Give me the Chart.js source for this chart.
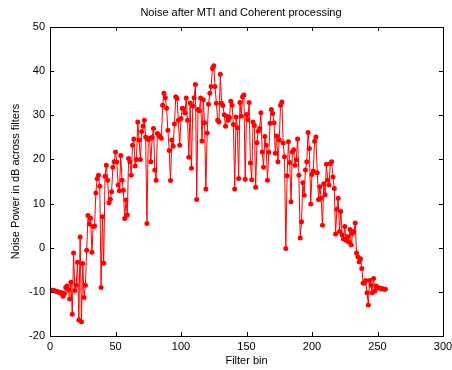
<!DOCTYPE html>
<html>
<head>
<meta charset="utf-8">
<script src="https://cdn.jsdelivr.net/npm/chart.js@4/dist/chart.umd.min.js"></script>
<style>
  html, body { margin: 0; padding: 0; background: #fff; }
  #wrap { width: 452px; height: 370px; }
</style>
</head>
<body>
<div id="wrap"><canvas id="noiseChart"></canvas></div>
<script>
// noise power (dB) for filter bins 1..256
const noisePower = [
  -9.6, -9.7, -9.7, -9.8, -9.9, -10.0, -10.1, -10.3, -10.2,
  -11.0, -10.4, -9.0, -8.7, -9.5, -11.6, -7.8, -15.1, -1.2, -9.7, -8.5,
  -3.3, -16.4, 2.4, -16.8, -3.6, -11.3, -8.5, -0.6, 7.3, 5.4, 6.7, -1.0,
  4.8, 4.9, 12.4, 15.6, 16.4, 13.9,
  -9.0, 7.0, -3.5, 16.2, 18.7, 15.3, 10.2, 11.0, 12.7, 18.2, 19.5, 21.7,
  19.4, 14.2, 12.9, 20.9, 15.3, 13.0, 6.6, 10.8, 7.4, 20.2, 19.5, 16.4,
  23.2, 24.6, 18.5, 20.0, 28.5, 24.4, 20.0, 26.3, 27.5, 28.9, 25.1, 5.5,
  24.5, 24.8, 19.5, 25.0, 27.0, 17.6, 15.3, 25.9, 25.5, 25.2, 24.8, 32.3, 35.0,
  34.0, 31.6, 26.6, 22.0, 15.2, 24.4, 23.0, 28.0, 34.2, 33.8, 28.9, 23.2,
  29.3, 31.6, 31.5, 30.5, 33.9, 28.9, 20.5, 32.8, 18.0, 32.1, 34.0, 37.0,
  10.9, 31.3, 31.0, 33.9, 24.2, 33.5, 28.3, 13.3, 26.0, 32.5, 35.0, 36.5,
  40.6, 41.2, 36.5, 32.7, 28.9,
  28.5, 39.3, 32.7, 32.2, 30.1, 27.5, 29.8, 28.9, 29.5, 33.2, 32.3, 27.9,
  13.3, 29.6, 27.2, 15.7, 32.9, 29.8, 34.2, 34.6, 15.5, 30.2, 29.0, 32.9,
  19.2, 15.4, 28.5, 27.7, 13.7, 23.8, 26.4, 27.0, 30.6, 21.7, 18.2, 25.2,
  23.2, 15.3, 21.6, 28.2, 31.3, 30.4,
  28.3, 21.4, 25.3, 19.5, 24.4, 32.3, 33.0, 23.7, 20.6, -0.2, 16.3, 24.0,
  19.3, 10.4, 21.7, 22.2, 18.7, 19.9, 24.6, 16.4, 2.2, 5.9, 14.7, 11.9,
  17.6, 19.5, 26.1, 22.5, 9.9, 16.6, 17.4, 24.1, 25.1, 17.0, 10.9, 13.8,
  11.2, 5.1, 14.5, 12.0, 18.9, 15.3, 14.2, 19.1, 19.5,
  16.0, 13.4, 3.1, 8.7, 11.2, 3.7, 8.2, 2.9, 2.0, 4.8, 1.7, 2.5, 1.3, 4.1,
  0.6, 3.3, 3.7, 5.6, -1.2, -2.1, -3.2, -2.5, -4.7, -8.0, -8.0, -7.4,
  -10.2, -13.0, -7.4, -8.5, -10.2, -7.0, -9.8, -8.7, -9.0, -9.1, -9.2,
  -9.3, -9.3, -9.4, -9.4
];
const xTicks = [0, 50, 100, 150, 200, 250, 300];
const yTicks = [-20, -10, 0, 10, 20, 30, 40, 50];
const chartTitle = 'Noise after MTI and Coherent processing';

const points = noisePower.map((v, i) => ({ x: i + 1, y: v }));
const fontFamily = "'Liberation Sans', Arial, sans-serif";
const font = { family: fontFamily, size: 11 };

// matlab style box with ticks pointing in, plus the title
const boxTicks = {
  id: 'boxTicks',
  afterDraw(chart) {
    const { ctx, chartArea: a, scales } = chart;
    const len = 4;
    ctx.save();
    ctx.strokeStyle = '#000';
    ctx.lineWidth = 1;
    ctx.beginPath();
    scales.x.ticks.forEach(t => {
      const px = Math.round(scales.x.getPixelForValue(t.value)) + 0.5;
      ctx.moveTo(px, a.bottom); ctx.lineTo(px, a.bottom - len);
      ctx.moveTo(px, a.top); ctx.lineTo(px, a.top + len);
    });
    scales.y.ticks.forEach(t => {
      const py = Math.round(scales.y.getPixelForValue(t.value)) + 0.5;
      ctx.moveTo(a.left, py); ctx.lineTo(a.left + len, py);
      ctx.moveTo(a.right, py); ctx.lineTo(a.right - len, py);
    });
    ctx.stroke();
    ctx.strokeRect(Math.round(a.left) + 0.5, Math.round(a.top) + 0.5,
      Math.round(a.right - a.left), Math.round(a.bottom - a.top));

    ctx.fillStyle = '#000';
    ctx.font = '11px ' + fontFamily;
    ctx.textAlign = 'center';
    ctx.textBaseline = 'middle';
    ctx.fillText(chartTitle, 241, 12.5);
    ctx.restore();
  }
};

new Chart(document.getElementById('noiseChart'), {
  type: 'line',
  data: {
    datasets: [{
      data: points,
      borderColor: '#ff0000',
      borderWidth: 1,
      pointRadius: 2.5,
      pointBorderWidth: 0,
      pointBackgroundColor: '#ff0000',
      tension: 0
    }]
  },
  options: {
    responsive: true,
    maintainAspectRatio: false,
    animation: false,
    layout: { padding: { top: 27, right: 9, left: 0, bottom: 0 } },
    plugins: {
      legend: { display: false },
      tooltip: { enabled: false },
      title: { display: false }
    },
    scales: {
      x: {
        type: 'linear',
        min: 0, max: 300,
        afterBuildTicks: s => { s.ticks = xTicks.map(v => ({ value: v })); },
        afterFit: s => { s.height = 34; s.paddingRight = 0; s.paddingLeft = 0; },
        grid: { display: false, drawTicks: false },
        border: { display: false },
        ticks: { color: '#000', font, padding: 4, maxRotation: 0 },
        title: { display: true, text: 'Filter bin', color: '#000', font, padding: { top: 0, bottom: 2 } }
      },
      y: {
        min: -20, max: 50,
        afterBuildTicks: s => { s.ticks = yTicks.map(v => ({ value: v })); },
        afterFit: s => { s.width = 50; s.paddingTop = 0; s.paddingBottom = 0; },
        grid: { display: false, drawTicks: false },
        border: { display: false },
        ticks: { color: '#000', font, padding: 5 },
        title: { display: true, text: 'Noise Power in dB across filters', color: '#000', font, padding: { top: 9, bottom: 0 } }
      }
    }
  },
  plugins: [boxTicks]
});
</script>
</body>
</html>
